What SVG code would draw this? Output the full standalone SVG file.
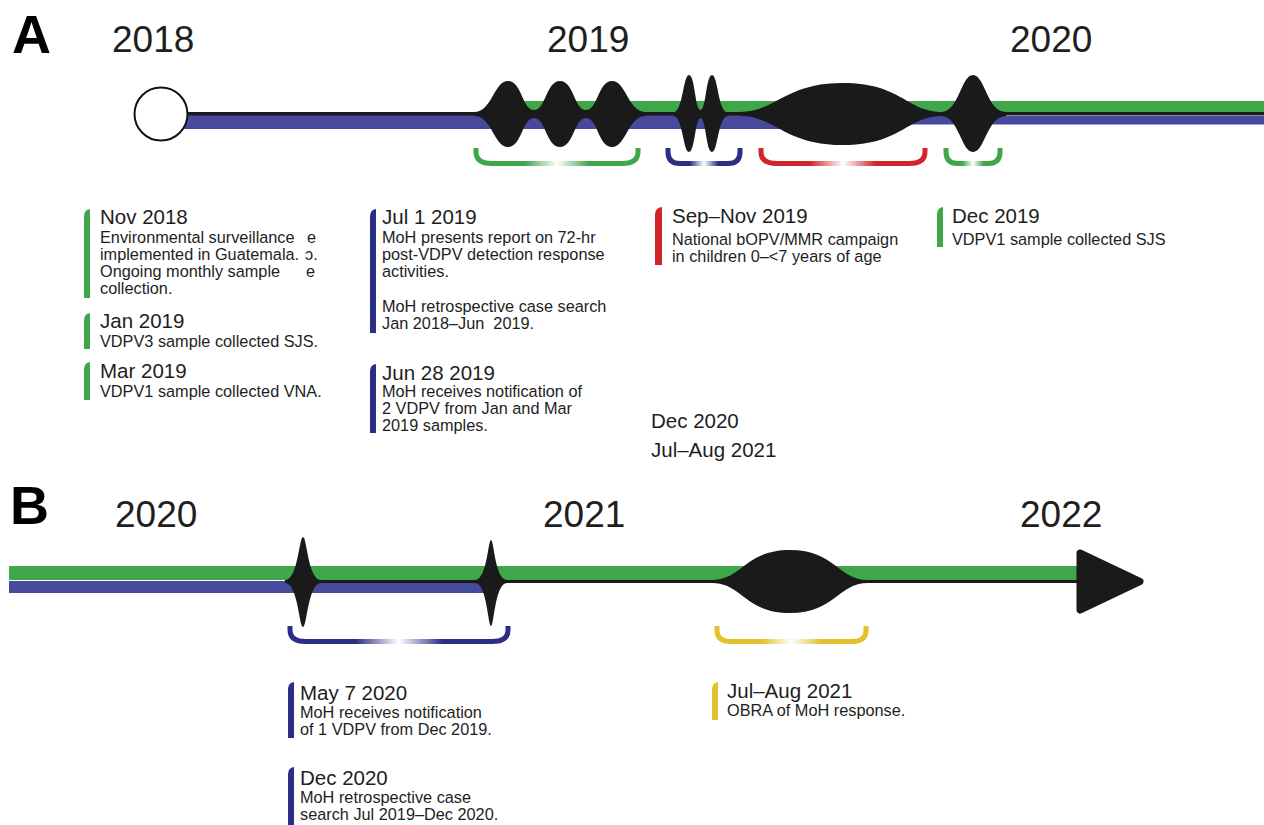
<svg xmlns="http://www.w3.org/2000/svg" width="1264" height="825" viewBox="0 0 1264 825">
<style>
text{font-family:"Liberation Sans",Arial,sans-serif;fill:#1e1e1e}
.yr{font-size:37px}
.pl{font-size:54px;font-weight:bold;fill:#000}
.hd{font-size:20.5px}
.bd{font-size:16.3px}
.blk{fill:#1a1a1a}
.gb{fill:#3fa74a}
.bb{fill:#474a9c}
.br{fill:none;stroke-width:5;stroke-linecap:butt}
.bar-g{fill:#3fa74a}
.bar-b{fill:#2c2e84}
.bar-r{fill:#d1242b}
.bar-y{fill:#e1c12c}
</style>
<defs>
<linearGradient id="gG" x1="0" x2="1" y1="0" y2="0">
<stop offset="0" stop-color="#3fa74a"/><stop offset="0.3" stop-color="#3fa74a"/><stop offset="0.5" stop-color="#3fa74a" stop-opacity="0"/><stop offset="0.7" stop-color="#3fa74a"/><stop offset="1" stop-color="#3fa74a"/>
</linearGradient>
<linearGradient id="gB" x1="0" x2="1" y1="0" y2="0">
<stop offset="0" stop-color="#2c2e84"/><stop offset="0.3" stop-color="#2c2e84"/><stop offset="0.5" stop-color="#2c2e84" stop-opacity="0"/><stop offset="0.7" stop-color="#2c2e84"/><stop offset="1" stop-color="#2c2e84"/>
</linearGradient>
<linearGradient id="gR" x1="0" x2="1" y1="0" y2="0">
<stop offset="0" stop-color="#d1242b"/><stop offset="0.3" stop-color="#d1242b"/><stop offset="0.5" stop-color="#d1242b" stop-opacity="0"/><stop offset="0.7" stop-color="#d1242b"/><stop offset="1" stop-color="#d1242b"/>
</linearGradient>
<linearGradient id="gY" x1="0" x2="1" y1="0" y2="0">
<stop offset="0" stop-color="#e1c12c"/><stop offset="0.3" stop-color="#e1c12c"/><stop offset="0.5" stop-color="#e1c12c" stop-opacity="0"/><stop offset="0.7" stop-color="#e1c12c"/><stop offset="1" stop-color="#e1c12c"/>
</linearGradient>
</defs>

<!-- Panel labels and years -->
<g id="headers">
<text class="pl" x="12" y="53">A</text>
<text class="yr" x="112" y="52">2018</text>
<text class="yr" x="547" y="52">2019</text>
<text class="yr" x="1010" y="52">2020</text>
<text class="pl" x="10" y="524">B</text>
<text class="yr" x="115" y="527">2020</text>
<text class="yr" x="543" y="527">2021</text>
<text class="yr" x="1020" y="527">2022</text>
</g>

<!-- Timeline A -->
<g id="timelineA">
<rect class="bb" x="170" y="115" width="680" height="14"/>
<rect class="bb" x="850" y="116" width="414" height="8.5"/>
<rect class="gb" x="495" y="101" width="769" height="12"/>
<rect class="blk" x="185" y="112" width="1079" height="3.5"/>
<circle cx="161" cy="114" r="26.5" fill="#fff" stroke="#111" stroke-width="2"/>
<path class="blk" d="M474,112 C492,112 494,81 508,81 C522,81 522,110 534,110 C546,110 546,81 560,81 C574,81 574,110 586,110 C598,110 598,81 612,81 C626,81 628,112 646,112 L646,116 C628,116 626,147 612,147 C598,147 598,118 586,118 C574,118 574,147 560,147 C546,147 546,118 534,118 C522,118 522,147 508,147 C494,147 492,116 474,116 Z"/>
<path class="blk" d="M673,112.5 C683,112.5 683,75 689,75 C695,75 695,110 700.5,110 C706,110 706,75 712,75 C718,75 718,112.5 728,112.5 L728,116 C718,116 718,152 712,152 C706,152 706,118 700.5,118 C695,118 695,152 689,152 C683,152 683,116 673,116 Z"/>
<path class="blk" d="M740,112 C776,112 784,83 843,83 C902,83 906,112 943,112 L943,116 C906,116 902,145 843,145 C784,145 776,116 740,116 Z"/>
<path class="blk" d="M941,112 C959,112 961,75 973,75 C985,75 987,112 1006,112 L1006,116 C987,116 985,152 973,152 C961,152 959,116 941,116 Z"/>
</g>

<!-- Brackets A -->
<g id="bracketsA">
<path class="br" stroke="url(#gG)" d="M476,148 L476,152 Q476,163.5 492,163.5 L622,163.5 Q638,163.5 638,152 L638,148"/>
<path class="br" stroke="url(#gB)" d="M668,148 L668,152 Q668,163.5 680,163.5 L728,163.5 Q740,163.5 740,152 L740,148"/>
<path class="br" stroke="url(#gR)" d="M761,148 L761,152 Q761,163.5 777,163.5 L909,163.5 Q925,163.5 925,152 L925,148"/>
<path class="br" stroke="url(#gG)" d="M946,148 L946,152 Q946,163.5 958,163.5 L988,163.5 Q1000,163.5 1000,152 L1000,148"/>
</g>

<!-- Timeline B -->
<g id="timelineB">
<rect class="gb" x="9" y="566" width="1072" height="14"/>
<rect class="bb" x="9" y="581" width="482" height="12"/>
<rect class="blk" x="303" y="580" width="780" height="3"/>
<path class="blk" d="M285,580 C298,580 299,537 303,537 C307,537 308,580 321,580 L321,583 C308,583 307,627 303,627 C299,627 298,583 285,583 Z"/>
<path class="blk" d="M475,580 C487,580 488,540 491,540 C494,540 495,580 507,580 L507,583 C495,583 494,626 491,626 C488,626 487,583 475,583 Z"/>
<path class="blk" d="M712,580 C742,580 745,550 790,550 C835,550 838,580 868,580 L868,583 C838,583 835,613 790,613 C745,613 742,583 712,583 Z"/>
<path class="blk" d="M1080,553 L1140,581.5 L1080,610 Z" stroke="#1a1a1a" stroke-width="7" stroke-linejoin="round"/>
</g>

<!-- Brackets B -->
<g id="bracketsB">
<path class="br" stroke="url(#gB)" d="M290,626 L290,630 Q290,641.5 306,641.5 L492,641.5 Q508,641.5 508,630 L508,626"/>
<path class="br" stroke="url(#gY)" d="M717,626 L717,630 Q717,641.5 731,641.5 L852,641.5 Q866,641.5 866,630 L866,626"/>
</g>

<!-- Event: Nov 2018 -->
<g id="ev-nov2018">
<path class="bar-g" d="M84,216 Q84,210 90,209 L90,298 L84,298 Z"/>
<text class="hd" x="100" y="224">Nov 2018</text>
<text class="bd" x="100" y="243">Environmental surveillance</text>
<text class="bd" x="100" y="260">implemented in Guatemala.</text>
<text class="bd" x="100" y="277">Ongoing monthly sample</text>
<text class="bd" x="100" y="294">collection.</text>
<text class="bd" x="307" y="243">e</text>
<text class="bd" x="305" y="260">ɔ.</text>
<text class="bd" x="306" y="277">e</text>
</g>

<g id="ev-jan2019">
<path class="bar-g" d="M84,320 Q84,314 90,313 L90,349 L84,349 Z"/>
<text class="hd" x="100" y="328">Jan 2019</text>
<text class="bd" x="100" y="347">VDPV3 sample collected SJS.</text>
</g>

<g id="ev-mar2019">
<path class="bar-g" d="M84,369 Q84,363 90,362 L90,400 L84,400 Z"/>
<text class="hd" x="100" y="378">Mar 2019</text>
<text class="bd" x="100" y="397">VDPV1 sample collected VNA.</text>
</g>

<g id="ev-jul2019">
<path class="bar-b" d="M370,216 Q370,210 376,209 L376,333 L370,333 Z"/>
<text class="hd" x="382" y="224">Jul 1 2019</text>
<text class="bd" x="382" y="243">MoH presents report on 72-hr</text>
<text class="bd" x="382" y="260">post-VDPV detection response</text>
<text class="bd" x="382" y="277">activities.</text>
<text class="bd" x="382" y="312">MoH retrospective case search</text>
<text class="bd" x="382" y="329">Jan 2018–Jun&#160; 2019.</text>
</g>

<g id="ev-jun2019">
<path class="bar-b" d="M370,371 Q370,365 376,364 L376,433 L370,433 Z"/>
<text class="hd" x="382" y="380">Jun 28 2019</text>
<text class="bd" x="382" y="397">MoH receives notification of</text>
<text class="bd" x="382" y="414">2 VDPV from Jan and Mar</text>
<text class="bd" x="382" y="431">2019 samples.</text>
</g>

<g id="ev-sepnov2019">
<path class="bar-r" d="M655,214 Q655,208 662,207 L662,265 L655,265 Z"/>
<text class="hd" x="672" y="223">Sep–Nov 2019</text>
<text class="bd" x="672" y="245">National bOPV/MMR campaign</text>
<text class="bd" x="672" y="262">in children 0–&lt;7 years of age</text>
</g>

<g id="ev-dec2019">
<path class="bar-g" d="M937,214 Q937,208 943,207 L943,247 L937,247 Z"/>
<text class="hd" x="952" y="223">Dec 2019</text>
<text class="bd" x="952" y="245">VDPV1 sample collected SJS</text>
</g>

<g id="stray">
<text class="hd" x="651" y="428">Dec 2020</text>
<text class="hd" x="651" y="457">Jul–Aug 2021</text>
</g>

<g id="ev-may2020">
<path class="bar-b" d="M288,689 Q288,683 294,682 L294,738 L288,738 Z"/>
<text class="hd" x="300" y="700">May 7 2020</text>
<text class="bd" x="300" y="718">MoH receives notification</text>
<text class="bd" x="300" y="735">of 1 VDPV from Dec 2019.</text>
</g>

<g id="ev-dec2020">
<path class="bar-b" d="M288,774 Q288,768 294,767 L294,825 L288,825 Z"/>
<text class="hd" x="300" y="785">Dec 2020</text>
<text class="bd" x="300" y="803">MoH retrospective case</text>
<text class="bd" x="300" y="820">search Jul 2019–Dec 2020.</text>
</g>

<g id="ev-julaug2021">
<path class="bar-y" d="M712,689 Q712,683 718,682 L718,720 L712,720 Z"/>
<text class="hd" x="727" y="698">Jul–Aug 2021</text>
<text class="bd" x="727" y="716">OBRA of MoH response.</text>
</g>
</svg>
